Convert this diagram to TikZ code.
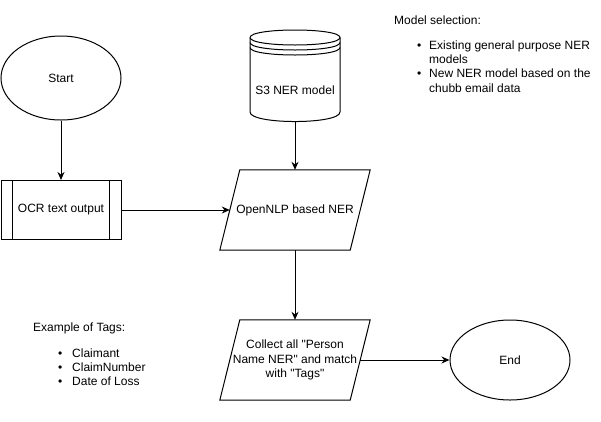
\documentclass[tikz,border=0pt]{standalone}
\usepackage{fontspec}
\setmainfont{Liberation Sans}[Ligatures=TeXOff]
\usetikzlibrary{shapes.geometric,arrows.meta,calc}
\begin{document}
\begin{tikzpicture}[x=1pt,y=-1pt,
  every node/.style={font=\fontsize{12}{14.4}\selectfont, inner sep=0pt},
  shp/.style={draw=black, line width=1pt},
  conn/.style={line width=1pt, -{Stealth[length=8pt,width=7pt]}},
  txt/.style={anchor=base west}]
\useasboundingbox[fill=white] (0,0) rectangle (601,421);

% Start
\node[shp, ellipse, minimum width=120pt, minimum height=84pt] (start) at (61,78) {Start};

% OCR process box
\node[shp, rectangle, minimum width=120pt, minimum height=59pt] (ocr) at (61,210) {OCR text output};
\draw[line width=1pt] ($(ocr.north west)+(12,0)$) -- ($(ocr.south west)+(12,0)$);
\draw[line width=1pt] ($(ocr.north east)+(-12,0)$) -- ($(ocr.south east)+(-12,0)$);

% S3 data store (cylinder)
\node[minimum width=90pt, minimum height=92pt] (s3) at (295,76) {};
\draw[shp, fill=white] (250,37.5) .. controls (250,27.5) and (340,27.5) .. (340,37.5)
  -- (340,112) .. controls (340,124.7) and (250,124.7) .. (250,112) -- cycle;
\draw[shp] (250,37.5) .. controls (250,47.5) and (340,47.5) .. (340,37.5);
\draw[shp] (250,42.5) .. controls (250,52.5) and (340,52.5) .. (340,42.5);
\draw[shp] (250,47.5) .. controls (250,57.5) and (340,57.5) .. (340,47.5);
\node (s3text) at (295,90) {S3 NER model};

% OpenNLP parallelogram
\node[minimum width=150pt, minimum height=80pt, align=center] (nlp) at (295,210) {OpenNLP based NER};
\draw[shp] ($(nlp.north west)+(20,0)$) -- (nlp.north east) -- ($(nlp.south east)+(-20,0)$) -- (nlp.south west) -- cycle;

% Collect parallelogram
\node[minimum width=150pt, minimum height=80pt, align=center] (col) at (295,360) {Collect all "Person\\Name NER" and match\\with "Tags"};
\draw[shp] ($(col.north west)+(20,0)$) -- (col.north east) -- ($(col.south east)+(-20,0)$) -- (col.south west) -- cycle;

% End
\node[shp, ellipse, minimum width=120pt, minimum height=80pt] (endn) at (510,360) {End};

% connectors
\draw[conn] (start) -- (ocr);
\draw[conn] (ocr.east) -- ($(nlp.west)+(10,0)$);
\draw[conn] (s3.south) -- (nlp.north);
\draw[conn] (nlp.south) -- (col.north);
\draw[conn] ($(col.east)+(-10,0)$) -- (endn.west);

% Model selection notes
\node[txt] (ms) at (394,24) {Model selection:};
\node[txt] (msb1) at (417,49) {•};
\node[txt] (ms1) at (429,49) {Existing general purpose NER};
\node[txt] (ms1b) at (429,63.4) {models};
\node[txt] (msb2) at (417,77.8) {•};
\node[txt] (ms2) at (429,77.8) {New NER model based on the};
\node[txt] (ms2b) at (429,92.2) {chubb email data};

% Example of tags
\node[txt] (et) at (33,331) {Example of Tags:};
\node[txt] (etb1) at (58,357) {•};
\node[txt] (et1) at (72,357) {Claimant};
\node[txt] (etb2) at (58,371.4) {•};
\node[txt] (et2) at (72,371.4) {ClaimNumber};
\node[txt] (etb3) at (58,385.8) {•};
\node[txt] (et3) at (72,385.8) {Date of Loss};
\end{tikzpicture}
\end{document}
